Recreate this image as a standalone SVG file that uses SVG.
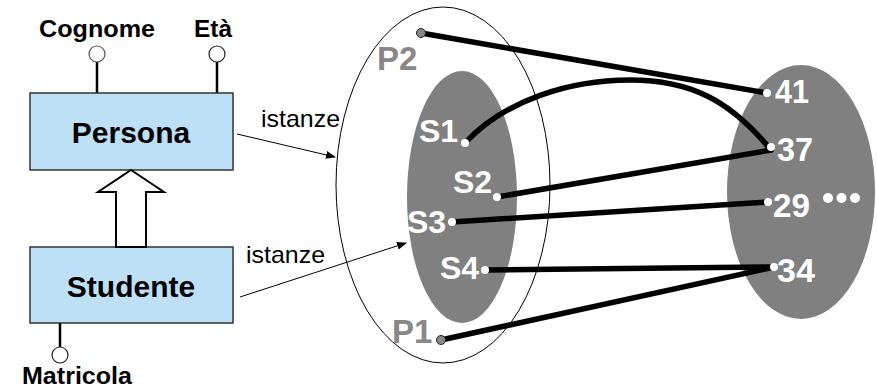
<svg xmlns="http://www.w3.org/2000/svg" width="877" height="389" viewBox="0 0 877 389">
<defs>
<marker id="ah" markerWidth="10" markerHeight="8" refX="9" refY="4" orient="auto" markerUnits="userSpaceOnUse">
<path d="M0,0 L10,4 L0,8 z" fill="#000"/>
</marker>
<style>
.ent{fill:#bde0f7;stroke:#333;stroke-width:1.5}
.etxt{font-family:"Liberation Sans",Arial,sans-serif;font-weight:bold;font-size:30px;fill:#000;text-anchor:middle}
.atxt{font-family:"Liberation Sans",Arial,sans-serif;font-weight:bold;font-size:23px;fill:#000}
.attr{stroke:#000;stroke-width:2.5}
.acirc{fill:#fff;stroke:#555;stroke-width:1.2}
.lbl{font-family:"Liberation Sans",Arial,sans-serif;font-size:24px;fill:#000}
.thin{stroke:#000;stroke-width:1;fill:none}
.ptxt{font-family:"Liberation Sans",Arial,sans-serif;font-weight:bold;font-size:33px;fill:#888}
.stxt{font-family:"Liberation Sans",Arial,sans-serif;font-weight:bold;font-size:32px;fill:#fff}
.ntxt{font-family:"Liberation Sans",Arial,sans-serif;font-weight:bold;font-size:33px;fill:#fff}
.link{stroke:#000;stroke-width:5.5;fill:none;stroke-linecap:round}
.wdot{fill:#fff}
.gdot{fill:#888;stroke:#222;stroke-width:1}
</style>
</defs>

<g id="Persona">
<line class="attr" x1="97" y1="62" x2="97" y2="93"/>
<circle class="acirc" cx="97" cy="54" r="8"/>
<text class="atxt" x="97" y="37" text-anchor="middle" textLength="116" lengthAdjust="spacingAndGlyphs">Cognome</text>
<line class="attr" x1="217" y1="62" x2="217" y2="93"/>
<circle class="acirc" cx="217" cy="54" r="8" style="stroke:#222"/>
<text class="atxt" x="213" y="37" text-anchor="middle" textLength="38" lengthAdjust="spacingAndGlyphs">Età</text>
<rect class="ent" x="30" y="93" width="203" height="77"/>
<text class="etxt" x="131" y="143">Persona</text>
</g>

<g id="Studente">
<rect class="ent" x="30" y="247" width="203" height="76"/>
<text class="etxt" x="131" y="297">Studente</text>
<line class="attr" x1="60" y1="323" x2="60" y2="347"/>
<circle class="acirc" cx="60" cy="355" r="8" style="stroke:#222"/>
<text class="atxt" x="77" y="384" text-anchor="middle" textLength="110" lengthAdjust="spacingAndGlyphs">Matricola</text>
</g>

<g id="isa">
<polygon points="131,170 164,192 146,192 146,247 116,247 116,192 98,192" fill="#fff" stroke="#000" stroke-width="2"/>
</g>

<g id="PersonaSet">
<ellipse cx="443" cy="185" rx="107" ry="178" fill="#fff" stroke="#000" stroke-width="1"/>
</g>
<g id="StudenteSet">
<ellipse cx="462" cy="197" rx="55" ry="126" fill="#808080"/>
</g>
<g id="EtaSet">
<ellipse cx="801" cy="192" rx="74" ry="127" fill="#808080"/>
</g>

<g id="labels">
<text class="lbl" x="261" y="127" textLength="79" lengthAdjust="spacingAndGlyphs">istanze</text>
<text class="lbl" x="246" y="263" textLength="79" lengthAdjust="spacingAndGlyphs">istanze</text>
</g>

<g id="connectors">
<line class="thin" x1="237" y1="134" x2="335" y2="157" marker-end="url(#ah)"/>
<line class="thin" x1="240" y1="297" x2="406" y2="243" marker-end="url(#ah)"/>
<line class="link" x1="421" y1="33" x2="767" y2="93"/>
<path class="link" d="M465,143 C505,100 570,80 630,80 C690,80 730,100 771,150"/>
<line class="link" x1="497" y1="197" x2="771" y2="150"/>
<line class="link" x1="452" y1="222" x2="768" y2="202"/>
<line class="link" x1="485" y1="270" x2="774" y2="267"/>
<line class="link" x1="441" y1="340" x2="774" y2="267"/>
</g>

<g id="elements">
<text class="ptxt" x="377" y="70">P2</text>
<circle class="gdot" cx="421" cy="33" r="4.5"/>
<text class="ptxt" x="392" y="343">P1</text>
<circle class="gdot" cx="441" cy="340" r="4.5"/>
<text class="stxt" x="419" y="142">S1</text>
<circle class="wdot" cx="465" cy="143" r="4"/>
<text class="stxt" x="453" y="193">S2</text>
<circle class="wdot" cx="497" cy="197" r="4"/>
<text class="stxt" x="407" y="233">S3</text>
<circle class="wdot" cx="452" cy="222" r="4"/>
<text class="stxt" x="440" y="279">S4</text>
<circle class="wdot" cx="485" cy="270" r="4"/>
<text class="ntxt" x="775" y="103" textLength="34" lengthAdjust="spacingAndGlyphs">41</text>
<circle class="wdot" cx="767" cy="93" r="4"/>
<text class="ntxt" x="777" y="161" textLength="36" lengthAdjust="spacingAndGlyphs">37</text>
<circle class="wdot" cx="771" cy="147" r="4"/>
<text class="ntxt" x="773" y="217" textLength="37" lengthAdjust="spacingAndGlyphs">29</text>
<circle class="wdot" cx="768" cy="202" r="4"/>
<text class="ntxt" x="777" y="282" textLength="38" lengthAdjust="spacingAndGlyphs">34</text>
<circle class="wdot" cx="774" cy="267" r="4"/>
<circle class="wdot" cx="828" cy="198" r="5"/>
<circle class="wdot" cx="841.5" cy="198" r="5"/>
<circle class="wdot" cx="855" cy="198" r="5"/>
</g>
</svg>
